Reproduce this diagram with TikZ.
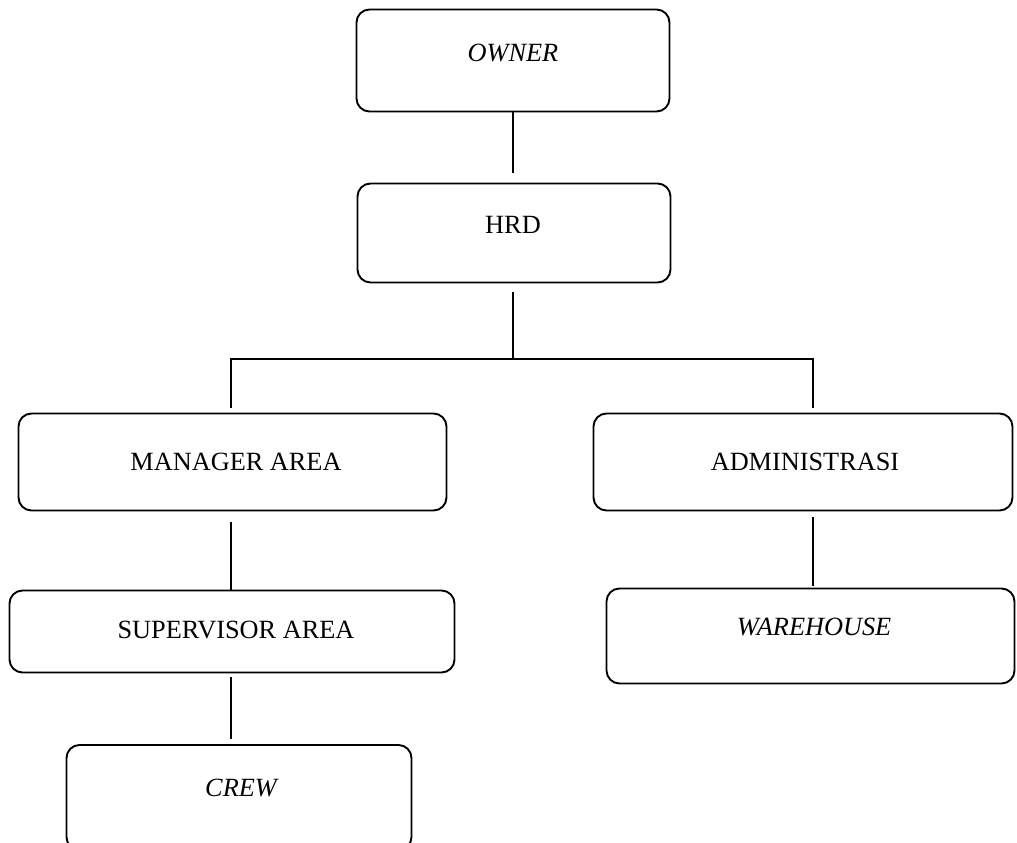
\documentclass[tikz,border=0pt]{standalone}
\usepackage{fontspec}
\setmainfont{Liberation Serif}
\begin{document}
\begin{tikzpicture}[x=1pt,y=-1pt,
  box/.style={draw, line width=1.9pt, rounded corners=13pt, inner sep=0pt},
  txt/.style={inner sep=0pt, font=\fontsize{26.3}{30}\selectfont},
  conn/.style={line width=1.8pt}]
\useasboundingbox (0,0) rectangle (1017,843);
\clip (0,0) rectangle (1017,843);
% boxes
\node[box, minimum width=313pt, minimum height=102pt] (owner) at (513,60.5) {};
\node[box, minimum width=313pt, minimum height=99pt] (hrd) at (514,233) {};
\node[box, minimum width=428pt, minimum height=97pt] (manager) at (232.5,462) {};
\node[box, minimum width=419pt, minimum height=97pt] (admin) at (803,462) {};
\node[box, minimum width=445pt, minimum height=82pt] (super) at (232,631.5) {};
\node[box, minimum width=408pt, minimum height=95pt] (warehouse) at (810.5,636) {};
\node[box, minimum width=345pt, minimum height=105pt] (crew) at (239,797.5) {};
% texts
\node[txt] (towner) at (513,53) {\textit{OWNER}};
\node[txt] (thrd) at (513,225) {HRD};
\node[txt] (tmanager) at (236,462) {MANAGER AREA};
\node[txt] (tadmin) at (805,462) {ADMINISTRASI};
\node[txt] (tsuper) at (236,630) {SUPERVISOR AREA};
\node[txt] (twarehouse) at (814,627) {\textit{WAREHOUSE}};
\node[txt] (tcrew) at (242,788) {\textit{CREW}};
% connectors
\coordinate (bus) at (513,359);
\coordinate (bl) at (231,359);
\coordinate (br) at (813,359);
\draw[conn, shorten >=10pt] (owner.south) -- (owner.south |- hrd.north);
\draw[conn, shorten <=9pt] (hrd.south -| bus) -- (bus);
\draw[conn, line cap=rect] (bl) -- (br);
\draw[conn, shorten >=5pt] (bl) -- (bl |- manager.north);
\draw[conn, shorten >=5pt] (br) -- (br |- admin.north);
\draw[conn, shorten <=11pt] (bl |- manager.south) -- (bl |- super.north);
\draw[conn, shorten <=4pt, shorten >=5pt] (bl |- super.south) -- (bl |- crew.north);
\draw[conn, shorten <=6pt, shorten >=2pt] (br |- admin.south) -- (br |- warehouse.north);
\end{tikzpicture}
\end{document}
